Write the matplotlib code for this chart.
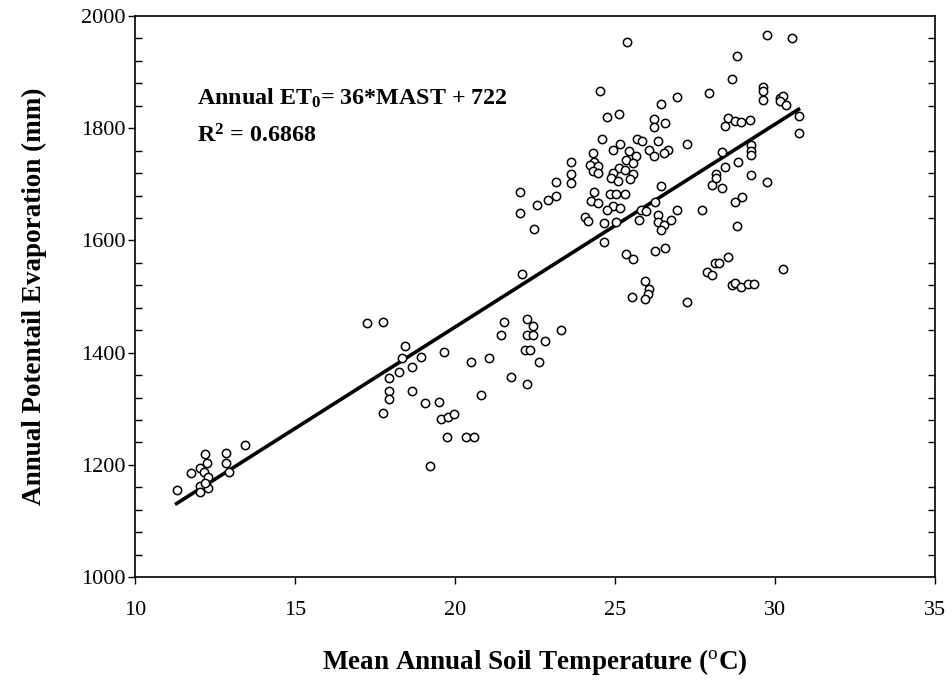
import numpy as np
import matplotlib
matplotlib.use('Agg')
import matplotlib.pyplot as plt
from matplotlib.ticker import MultipleLocator

plt.rcParams.update({
    'font.family': ['Liberation Serif', 'DejaVu Serif'],
    'mathtext.fontset': 'custom',
    'mathtext.rm': 'Liberation Serif',
    'mathtext.bf': 'Liberation Serif:bold',
    'mathtext.default': 'bf',
})

# mean annual soil temperature (C) and annual ET0 (mm)
mast = [
    11.30, 11.75, 12.03, 12.19, 12.26, 12.16, 12.27, 12.03, 12.03, 12.29,
    12.20, 12.83, 12.85, 12.94, 13.45,
    17.25, 17.75, 18.45, 18.33, 18.24, 17.95, 17.95, 17.95, 17.75, 18.65,
    18.95, 18.65, 19.07, 19.50, 19.65, 19.57, 19.78, 19.98, 19.75, 20.34,
    20.59, 19.23, 20.50, 21.05, 20.83, 21.74, 21.44, 21.54, 22.25, 22.45,
    22.25, 22.45, 22.20, 22.34, 22.83, 22.63, 22.25, 23.33,
    22.04, 22.04, 22.47, 22.10, 22.55, 22.90, 23.16, 23.15, 23.63, 23.63,
    23.63, 24.30, 24.34, 24.23, 24.46, 24.32, 24.46, 24.52, 24.74, 25.13,
    25.38, 24.59, 25.15, 24.95, 25.69, 25.84, 26.35, 26.05, 26.66, 26.53,
    26.23, 25.45, 25.65, 25.35, 25.58, 27.24, 26.23, 26.23, 26.56, 26.44,
    26.95, 27.93, 28.65, 28.83, 28.54, 28.44, 28.74, 28.95, 29.23, 29.74,
    30.53, 29.64, 29.64, 29.64, 30.15, 30.24, 30.15, 30.34, 30.74, 30.74,
    29.24, 29.24, 29.24, 28.85, 29.24, 29.74, 28.96, 28.83, 25.13, 24.95,
    25.33, 25.56, 24.87, 25.09, 25.46, 24.35, 24.25, 24.46, 24.85, 25.02,
    25.30, 24.95, 25.15, 24.75, 26.45, 26.25, 25.83, 25.96, 25.75, 24.07,
    24.15, 24.65, 25.03, 26.35, 26.35, 26.54, 26.75, 26.45, 26.95, 24.65,
    25.34, 25.55, 26.24, 26.55, 25.94, 26.06, 26.04, 25.94, 25.54, 27.24,
    27.73, 28.04, 28.15, 28.17, 28.34, 28.34, 28.45, 28.75, 28.13, 28.25,
    28.54, 27.87, 28.04, 28.65, 28.75, 28.94, 29.15, 29.34, 30.24,
]
et0 = [
    1156, 1186, 1195, 1220, 1204, 1187, 1179, 1162, 1151, 1158,
    1167, 1221, 1203, 1187, 1235,
    1452, 1455, 1411, 1390, 1365, 1354, 1332, 1317, 1292, 1374,
    1392, 1332, 1310, 1312, 1402, 1282, 1286, 1291, 1250, 1250,
    1249, 1198, 1383, 1390, 1324, 1356, 1432, 1455, 1460, 1448,
    1432, 1432, 1405, 1404, 1420, 1384, 1344, 1441,
    1687, 1649, 1621, 1540, 1664, 1672, 1679, 1705, 1739, 1718,
    1703, 1755, 1740, 1734, 1733, 1724, 1720, 1867, 1820, 1826,
    1954, 1780, 1772, 1761, 1780, 1777, 1777, 1762, 1762, 1755,
    1750, 1760, 1750, 1743, 1738, 1771, 1816, 1802, 1809, 1844,
    1856, 1862, 1888, 1928, 1818, 1804, 1812, 1811, 1815, 1967,
    1961, 1874, 1867, 1850, 1854, 1858, 1848, 1841, 1822, 1791,
    1770, 1759, 1752, 1739, 1717, 1705, 1677, 1626, 1729, 1720,
    1726, 1718, 1712, 1706, 1710, 1686, 1671, 1667, 1682, 1682,
    1683, 1662, 1658, 1654, 1697, 1668, 1655, 1652, 1636, 1642,
    1634, 1631, 1632, 1646, 1633, 1628, 1636, 1618, 1654, 1598,
    1576, 1567, 1581, 1587, 1527, 1514, 1504, 1496, 1499, 1490,
    1654, 1698, 1718, 1711, 1694, 1758, 1731, 1669, 1560, 1560,
    1570, 1544, 1538, 1520, 1525, 1517, 1523, 1523, 1549,
]

slope, intercept = 36.15, 722.5

fig = plt.figure(figsize=(9.52, 6.88), dpi=100)
ax = fig.add_axes([0.1418, 0.1613, 0.8402, 0.8154])

ax.plot(mast, et0, 'o', ms=6, mfc='white', mec='black', mew=1.1, zorder=3)
xl = np.array([min(mast), max(mast)])
ax.plot(xl, slope * xl + intercept, color='black', lw=2.6, zorder=2)

ax.set_xlim(10, 35)
ax.set_ylim(1000, 2000)
ax.xaxis.set_major_locator(MultipleLocator(5))
ax.yaxis.set_major_locator(MultipleLocator(200))
ax.yaxis.set_minor_locator(MultipleLocator(40))

ax.tick_params(which='major', direction='out', length=5, width=1,
               labelsize=16, left=True, right=False, top=False, bottom=True)
ax.tick_params(axis='x', which='major', pad=12)
ax.tick_params(axis='y', which='major', pad=2)
ax.tick_params(axis='y', which='minor', direction='in', length=5, width=1,
               left=True, right=True)
for s in ax.spines.values():
    s.set_linewidth(1.2)

ax.set_xlabel(r'Mean Annual Soil Temperature ($^\mathrm{o}$C)',
              fontsize=19.5, fontweight='bold', labelpad=20)
ax.set_ylabel('Annual Potentail Evaporation (mm)',
              fontsize=19.5, fontweight='bold', labelpad=24)

ax.text(0.077, 0.854, r'Annual ET$_0$= 36*MAST + 722', transform=ax.transAxes,
        fontsize=17.3, fontweight='bold', va='center')
ax.text(0.077, 0.787, r'R$^2$ = 0.6868', transform=ax.transAxes,
        fontsize=17.3, fontweight='bold', va='center')

fig.savefig('out.png', dpi=100)
